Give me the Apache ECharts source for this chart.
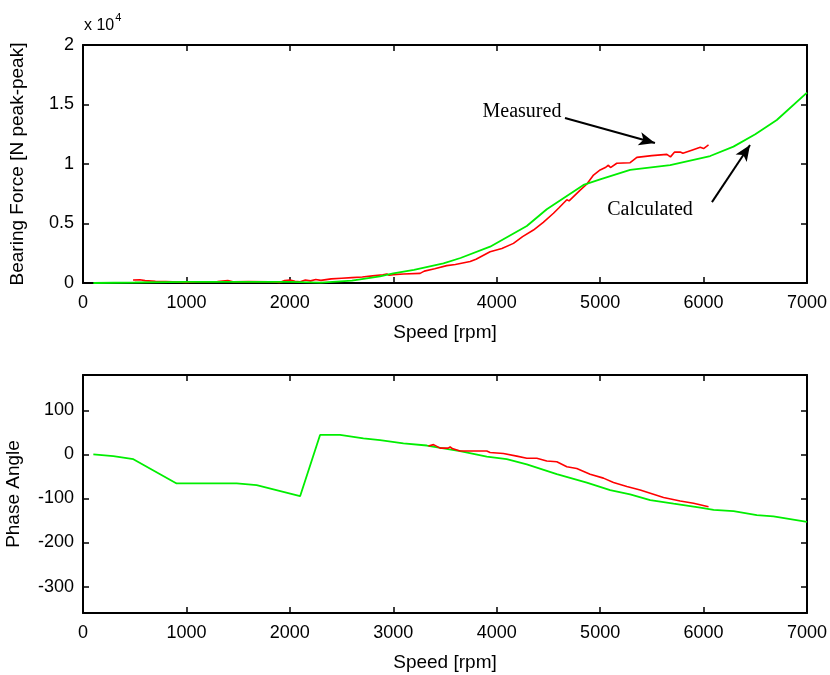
<!DOCTYPE html>
<html><head><meta charset="utf-8">
<script src="https://cdn.jsdelivr.net/npm/echarts@6/dist/echarts.min.js"></script>
<style>html,body{margin:0;padding:0;background:#fff}#c{width:830px;height:675px}</style>
</head><body><div id="c"></div>
<script>
// Top panel: bearing force (x 10^4 N peak-peak) vs speed [rpm]
var forceCalculated = [[100,0],[500,0.004],[1000,0.01],[1500,0.01],[2000,0.01],[2300,0.003],[2600,0.02],[2872,0.055],[3000,0.08],[3200,0.11],[3485,0.165],[3650,0.21],[3936,0.305],[4291,0.479],[4484,0.62],[4839,0.824],[5000,0.87],[5290,0.95],[5677,0.99],[6064,1.067],[6289,1.146],[6500,1.25],[6708,1.37],[7000,1.6]];
var forceMeasured = [[484,0.025],[550,0.027],[600,0.02],[700,0.015],[800,0.012],[1000,0.005],[1100,0.01],[1300,0.012],[1400,0.02],[1450,0.01],[1600,0.012],[1800,0.01],[1900,0.005],[1950,0.02],[2000,0.025],[2050,0.015],[2100,0.01],[2150,0.025],[2200,0.018],[2250,0.03],[2300,0.022],[2400,0.035],[2500,0.04],[2600,0.045],[2700,0.05],[2800,0.06],[2900,0.07],[2937,0.076],[2960,0.065],[3000,0.07],[3100,0.075],[3259,0.081],[3300,0.1],[3400,0.12],[3517,0.146],[3600,0.155],[3743,0.18],[3800,0.2],[3936,0.263],[4050,0.29],[4162,0.333],[4250,0.39],[4355,0.445],[4450,0.51],[4549,0.586],[4600,0.63],[4678,0.70],[4700,0.69],[4807,0.78],[4870,0.83],[4936,0.907],[5000,0.95],[5050,0.97],[5080,0.99],[5100,0.97],[5161,1.006],[5290,1.011],[5355,1.056],[5500,1.07],[5645,1.081],[5680,1.06],[5720,1.1],[5774,1.10],[5800,1.09],[5900,1.12],[5968,1.14],[6000,1.13],[6048,1.16]];
// Bottom panel: phase angle vs speed
var phaseCalculated = [[100,0],[293,-4],[487,-11],[905,-66],[1486,-66],[1679,-70],[2099,-95],[2292,44],[2485,44],[2711,36],[2872,32],[3098,25],[3324,20],[3646,7.5],[3904,-5],[4097,-11],[4291,-23],[4581,-45],[4871,-64],[5097,-81],[5290,-91],[5484,-104],[5710,-112],[5968,-121],[6097,-126],[6290,-129],[6515,-138],[6676,-141],[7000,-153]];
var phaseMeasured = [[3340,19],[3389,22],[3453,14],[3530,14],[3550,17],[3570,13],[3646,7.5],[3904,7.5],[3936,4],[4065,2],[4194,-4],[4291,-9],[4388,-9],[4484,-15],[4581,-17],[4678,-28],[4774,-32],[4903,-45],[5032,-54],[5129,-64],[5258,-73],[5387,-81],[5613,-98],[5774,-106],[5903,-111],[6048,-119]];
var speedTicks = [0,1000,2000,3000,4000,5000,6000,7000];
var forceTicks = [0,0.5,1,1.5,2];
var phaseTicks = [-300,-200,-100,0,100];
// annotations (data coordinates)
var measuredLabel = {text:'Measured', at:[4244,1.437], arrow:[[4660,1.387],[5530,1.176]]};
var calculatedLabel = {text:'Calculated', at:[5482,0.613], arrow:[[6081,0.68],[6449,1.16]]};

var RED = '#ff0000', GREEN = '#00ee00';
var FONT = 'Liberation Sans';
var axLine = {show:true, onZero:false, lineStyle:{color:'#000', width:2}};
function plain(v){ return String(v); }
function xAx(grid, pos, labels, name){
  return {type:'value', gridIndex:grid, position:pos, min:0, max:7000, interval:1000,
    axisLine:axLine, axisTick:{show:true, inside:true, length:6, lineStyle:{color:'#000',width:1.5}},
    axisLabel:{show:labels, color:'#000', fontFamily:FONT, fontSize:18, margin:11, formatter:plain},
    splitLine:{show:false},
    name:name||'', nameLocation:'middle', nameGap:40,
    nameTextStyle:{color:'#000', fontFamily:FONT, fontSize:19}};
}
function yAx(grid, pos, labels, min, max, interval, ticks, name, gap, nsize){
  var a = {type:'value', gridIndex:grid, position:pos, min:min, max:max,
    axisLine:axLine,
    axisTick:{show:true, inside:true, length:6, lineStyle:{color:'#000',width:1.5}},
    axisLabel:{show:labels, color:'#000', fontFamily:FONT, fontSize:18, margin:9, formatter:plain},
    splitLine:{show:false},
    name:name||'', nameLocation:'middle', nameGap:gap||50, nameRotate:90,
    nameTextStyle:{color:'#000', fontFamily:FONT, fontSize:nsize||18}};
  if (interval) a.interval = interval;
  else { a.axisLabel.customValues = ticks; a.axisTick.customValues = ticks; }
  return a;
}
function annotation(o){
  return {
    silent:true, symbol:['none','arrow'], symbolSize:[10,16],
    lineStyle:{color:'#000', width:2, type:'solid'}, label:{show:false},
    data:[[{coord:o.arrow[0]},{coord:o.arrow[1]}]]
  };
}
function textPoint(o){
  return {silent:true, symbol:'circle', symbolSize:0,
    label:{show:true, position:'inside', formatter:o.text, color:'#000', fontFamily:'Liberation Serif', fontSize:20},
    data:[{coord:o.at}]};
}

var chart = echarts.init(document.getElementById('c'), null, {renderer:'canvas'});
chart.setOption({
  animation:false,
  backgroundColor:'#fff',
  graphic:[{type:'text', left:84, top:12, style:{
    text:'{a|x 10}{b|4}', rich:{a:{fontFamily:FONT, fontSize:16, fill:'#000', padding:[6,0,0,0]}, b:{fontFamily:FONT, fontSize:11, fill:'#000', verticalAlign:'top', padding:[0,0,0,1]}}}}],
  grid:[
    {left:83, right:23, top:45, height:238, containLabel:false, outerBoundsMode:'none'},
    {left:83, right:23, top:375, height:238, containLabel:false, outerBoundsMode:'none'}
  ],
  xAxis:[
    xAx(0,'bottom',true,'Speed [rpm]'), xAx(0,'top',false),
    xAx(1,'bottom',true,'Speed [rpm]'), xAx(1,'top',false)
  ],
  yAxis:[
    yAx(0,'left',true,0,2,0.5,null,'Bearing Force [N peak-peak]',56,19),
    yAx(0,'right',false,0,2,0.5),
    yAx(1,'left',true,-360,180,null,phaseTicks,'Phase Angle',60,19),
    yAx(1,'right',false,-360,180,null,phaseTicks)
  ],
  series:[
    {type:'line', name:'Measured', xAxisIndex:0, yAxisIndex:0, data:forceMeasured, showSymbol:false, lineStyle:{color:RED,width:1.6}, itemStyle:{color:RED},
      markLine:annotation(measuredLabel), markPoint:textPoint(measuredLabel)},
    {type:'line', name:'Calculated', xAxisIndex:0, yAxisIndex:0, data:forceCalculated, showSymbol:false, lineStyle:{color:GREEN,width:1.8}, itemStyle:{color:GREEN},
      markLine:annotation(calculatedLabel), markPoint:textPoint(calculatedLabel)},
    {type:'line', xAxisIndex:2, yAxisIndex:2, data:phaseMeasured, showSymbol:false, lineStyle:{color:RED,width:1.6}, z:3},
    {type:'line', xAxisIndex:2, yAxisIndex:2, data:phaseCalculated, showSymbol:false, lineStyle:{color:GREEN,width:1.8}, z:2}
  ]
});
</script></body></html>
